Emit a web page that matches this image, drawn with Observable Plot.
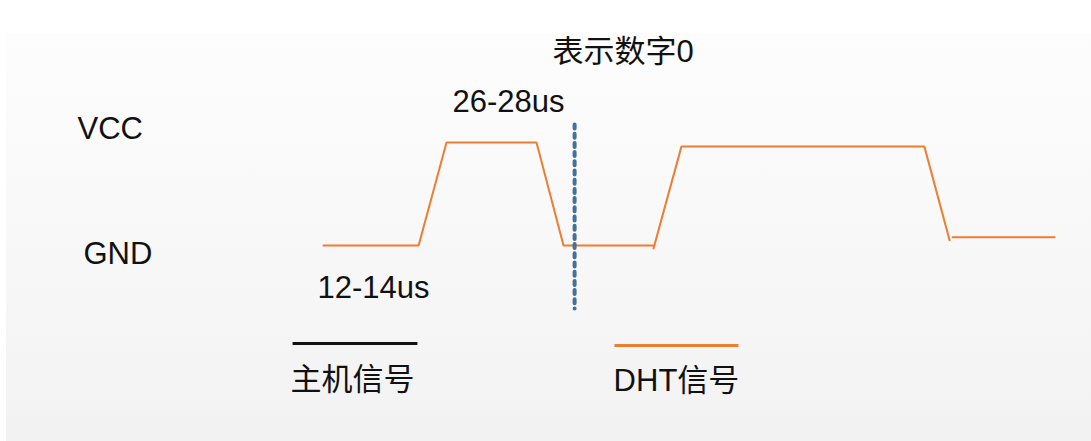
<!DOCTYPE html>
<html>
<head>
<meta charset="utf-8">
<script src="https://cdn.jsdelivr.net/npm/d3@7"></script>
<script src="https://cdn.jsdelivr.net/npm/@observablehq/plot@0.6"></script>
<style>
  html, body { margin: 0; padding: 0; background: #ffffff; }
  #wrap { position: relative; width: 1091px; height: 441px; overflow: hidden; background: #ffffff; }
  #panel { position: absolute; left: 6px; top: 33px; right: 0; bottom: 0;
           background: linear-gradient(to bottom, #fdfdfd 0%, #f8f8f8 50%, #f2f2f2 100%); }
  #chart { position: absolute; left: 0; top: 0; }
</style>
</head>
<body>
<div id="wrap"><div id="panel"></div><div id="chart"></div></div>
<script>
// ---- data (time in arbitrary units, level: GND = 0, VCC = 1) ----
const dhtTime    = [0, 31.7, 41, 71, 80, 110,   110, 119.3, 200.3, 208.7,   209.7, 243.7];
const dhtLevel   = [0, 0,    1,  1,  0,  0,   -0.03, 0.96,  0.96,  0.05,    0.08,  0.08];
const dhtSegment = [0, 0,    0,  0,  0,  0,     1,   1,     1,     1,       2,     2];

const markerTime  = [83.7, 83.7];
const markerLevel = [1.175, -0.612];

const levelLabels = ["VCC", "GND"];
const levelLabelTime = [-82, -80];
const levelLabelLevel = [1.126, -0.083];

const noteLabels = ["表示数字0", "26-28us", "12-14us"];
const noteTime = [76.3, 43, -2];
const noteLevel = [1.874, 1.388, -0.417];

const legendNames = ["主机信号", "DHT信号"];
const legendColors = ["#111111", "#ED7D31"];
const legendLineStart = [-10.3, 97];
const legendLineEnd = [31.3, 138.3];
const legendLineLevel = [-0.951, -0.971];
const legendTextTime = [-11, 96.7];
const legendTextLevel = [-1.31, -1.32];

// ---- build tables ----
const dht = dhtTime.map((t, i) => ({t, level: dhtLevel[i], seg: dhtSegment[i]}));
const marker = markerTime.map((t, i) => ({t, level: markerLevel[i]}));
const levels = levelLabels.map((s, i) => ({s, t: levelLabelTime[i], level: levelLabelLevel[i]}));
const notes = noteLabels.map((s, i) => ({s, t: noteTime[i], level: noteLevel[i]}));
const legend = legendNames.map((s, i) => ({
  s, color: legendColors[i],
  t1: legendLineStart[i], t2: legendLineEnd[i], level: legendLineLevel[i],
  tt: legendTextTime[i], tl: legendTextLevel[i]
}));

const font = "'Liberation Sans', Arial, 'Noto Sans CJK SC', sans-serif";

const chart = Plot.plot({
  width: 1091,
  height: 441,
  margin: 0,
  style: {background: "transparent", fontFamily: font, color: "#111"},
  x: {domain: [-107.67, 256], range: [0, 1091], axis: null},
  y: {domain: [0, 1], range: [245, 142], axis: null},
  marks: [
    Plot.line(dht, {x: "t", y: "level", z: "seg", stroke: "#ED7D31", strokeWidth: 2, curve: "linear", strokeLinejoin: "miter"}),
    Plot.line(marker, {x: "t", y: "level", stroke: "#41719C", strokeWidth: 4, strokeDasharray: "4,5.2"}),
    Plot.text(levels, {x: "t", y: "level", text: "s", textAnchor: "start", lineAnchor: "middle", fontSize: 31, fill: "#111"}),
    Plot.text(notes, {x: "t", y: "level", text: "s", textAnchor: "start", lineAnchor: "middle", fontSize: 31, fill: "#111"}),
    Plot.link(legend, {x1: "t1", x2: "t2", y1: "level", y2: "level", stroke: "color", strokeWidth: 3}),
    Plot.text(legend, {x: "tt", y: "tl", text: "s", textAnchor: "start", lineAnchor: "middle", fontSize: 31, fill: "#111"})
  ]
});
document.getElementById("chart").appendChild(chart);
</script>
</body>
</html>
